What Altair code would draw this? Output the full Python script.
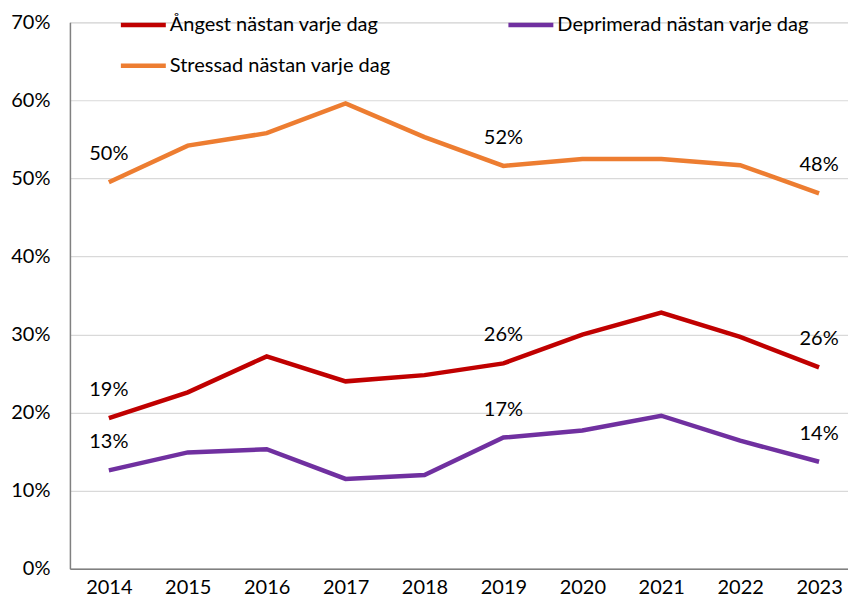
import altair as alt
import pandas as pd

years = [2014, 2015, 2016, 2017, 2018, 2019, 2020, 2021, 2022, 2023]
angest = [0.193, 0.226, 0.272, 0.240, 0.248, 0.263, 0.300, 0.328, 0.297, 0.258]
deprimerad = [0.126, 0.149, 0.153, 0.115, 0.120, 0.168, 0.177, 0.196, 0.164, 0.137]
stressad = [0.495, 0.542, 0.558, 0.596, 0.553, 0.516, 0.525, 0.525, 0.517, 0.481]

# legend fills column by column: Ångest + Stressad in column 1, Deprimerad in column 2
series_names = ["Ångest nästan varje dag", "Stressad nästan varje dag", "Deprimerad nästan varje dag"]
series_values = [angest, stressad, deprimerad]
series_colors = ["#C00000", "#ED7D31", "#7030A0"]
label_years = [2014, 2019, 2023]
y_ticks = [0, 0.1, 0.2, 0.3, 0.4, 0.5, 0.6, 0.7]

rows = []
for name, vals in zip(series_names, series_values):
    for yr, v in zip(years, vals):
        rows.append({"year": str(yr), "serie": name, "value": v,
                     "show": yr in label_years})
df = pd.DataFrame(rows)

FONT = "Lato"

x = alt.X("year:O", title=None,
          scale=alt.Scale(type="point", padding=0.43, align=0.5735),
          axis=alt.Axis(labelAngle=0, ticks=False, grid=False, domainColor="#808080",
                        domainWidth=1.5, labelPadding=9, labelFontSize=20,
                        labelFont=FONT, labelColor="#000000"))
y = alt.Y("value:Q", title=None,
          scale=alt.Scale(domain=[0, 0.7], nice=False, zero=True),
          axis=alt.Axis(values=y_ticks, format=".0%", ticks=False, grid=True,
                        gridColor="#D9D9D9", gridWidth=1.2, domainColor="#808080",
                        domainWidth=1.5, labelPadding=20, labelFontSize=20,
                        labelFont=FONT, labelColor="#000000"))

color = alt.Color("serie:N", title=None,
                  scale=alt.Scale(domain=series_names, range=series_colors),
                  legend=alt.Legend(orient="none", legendX=60, legendY=-11, columns=2,
                                    symbolType="M-2,0L2,0", symbolSize=506,
                                    symbolStrokeWidth=4.5, labelFontSize=20,
                                    labelFont=FONT, labelColor="#000000",
                                    labelOffset=13, columnPadding=108, rowPadding=17,
                                    labelLimit=400, padding=0))

lines = alt.Chart(df).mark_line(strokeWidth=4.5).encode(x=x, y=y, color=color)

labels = alt.Chart(df).transform_filter("datum.show").mark_text(
    dy=-28, fontSize=20, font=FONT, color="#000000", baseline="middle"
).encode(x="year:O", y="value:Q", text=alt.Text("value:Q", format=".0%"))

chart = (lines + labels).properties(
    width=779, height=547,
    padding={"left": 2, "top": 3, "right": 0, "bottom": 0},
).configure_view(stroke=None).configure(background="white")

chart.save("out.html", embed_options={"renderer": "svg", "actions": False})
